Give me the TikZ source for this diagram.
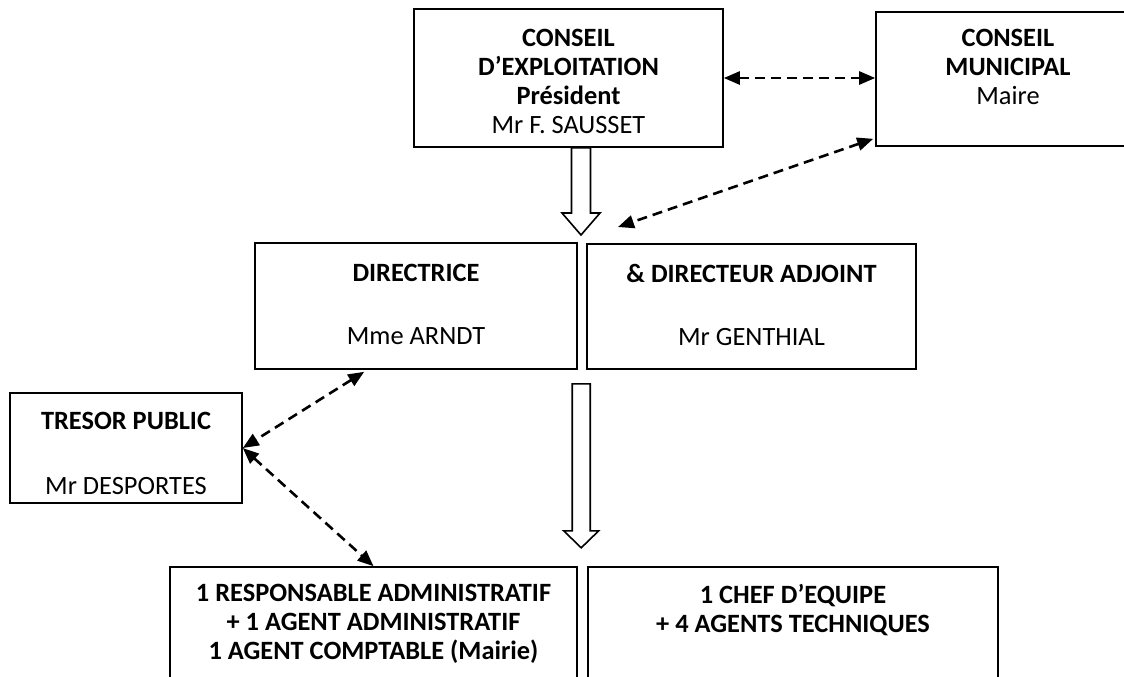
\documentclass[tikz,border=0pt]{standalone}
\usepackage{fontspec}
\setmainfont{Carlito}
\usetikzlibrary{arrows.meta,calc}
\tikzset{
  box/.style={draw, line width=0.8pt, inner sep=0pt},
  txt/.style={anchor=north, align=center, inner sep=0pt, font=\fontsize{13.2}{14.5}\selectfont},
  link/.style={line width=1.3pt, dash pattern=on 5pt off 3pt,
    {Triangle[length=8pt,width=6.5pt]}-{Triangle[length=8pt,width=6.5pt]}},
  hollow/.style={draw, line width=0.8pt, fill=white, line join=miter},
}
\begin{document}
\begin{tikzpicture}[x=0.5pt,y=-0.5pt]
\useasboundingbox (0,0) rectangle (1124,676);
\clip (0,0) rectangle (1124,676);
% cadres
\node[box, minimum width=154.5pt, minimum height=69pt] (cx) at (568.5,78) {};
\node[box, minimum width=132pt, minimum height=67pt] (cm) at (1008,79) {};
\node[box, minimum width=161pt, minimum height=63pt] (dir) at (416,306) {};
\node[box, minimum width=164.5pt, minimum height=62.5pt] (adj) at (751.5,306.5) {};
\node[box, minimum width=116pt, minimum height=55pt] (tr) at (126,448) {};
\node[box, minimum width=203.5pt, minimum height=66.5pt] (bl) at (373.5,633.5) {};
\node[box, minimum width=205pt, minimum height=66.5pt] (br) at (793,633.5) {};
% textes
\node[txt] (cx-t) at (cx.north |- 0,29) {\textbf{CONSEIL}\\ \textbf{D’EXPLOITATION}\\ \textbf{Président}\\ Mr F. SAUSSET};
\node[txt] (cm-t) at (cm.north |- 0,29) {\textbf{CONSEIL}\\ \textbf{MUNICIPAL}\\ Maire};
\node[txt] (dir-t) at (dir.north |- 0,264) {\textbf{DIRECTRICE}\\[17pt] Mme ARNDT};
\node[txt] (adj-t) at (adj.north |- 0,264) {\textbf{\& DIRECTEUR ADJOINT}\\[17pt] Mr GENTHIAL};
\node[txt] (tr-t) at (tr.north |- 0,412) {\textbf{TRESOR PUBLIC}\\[18pt] Mr DESPORTES};
\node[txt] (bl-t) at (bl.north |- 0,584) {\textbf{1 RESPONSABLE ADMINISTRATIF}\\ \textbf{+ 1 AGENT ADMINISTRATIF}\\ \textbf{1 AGENT COMPTABLE (Mairie)}};
\node[txt] (br-t) at (br.north |- 0,584) {\textbf{1 CHEF D’EQUIPE}\\ \textbf{+ 4 AGENTS TECHNIQUES}};
% fleches creuses
\coordinate (h1) at ($(cx.south)+(12.5,0)$);
\coordinate (h1t) at (581,235);
\draw[hollow] ($(h1)+(-9.5,0)$) -- ($(h1t)+(-9.5,-22)$) -- ($(h1t)+(-19,-22)$) -- (h1t)
  -- ($(h1t)+(19,-22)$) -- ($(h1t)+(9.5,-22)$) -- ($(h1)+(9.5,0)$) -- cycle;
\coordinate (h2) at ($(adj.south west)+(-5,14)$);
\coordinate (h2t) at ($(h2)+(0,164)$);
\draw[hollow] ($(h2)+(-9,0)$) -- ($(h2t)+(-9,-17)$) -- ($(h2t)+(-17.5,-17)$) -- (h2t)
  -- ($(h2t)+(17.5,-17)$) -- ($(h2t)+(9,-17)$) -- ($(h2)+(9,0)$) -- cycle;
% liaisons
\coordinate (m1) at ($(cm.south west)+(-2,-8)$);
\coordinate (m2) at (618,227);
\draw[link] (cx.east) -- (cm.west |- cx.east);
\draw[link] (m1) -- (m2);
\draw[link] ($(dir.south west)+(110,2)$) -- (tr.east);
\draw[link] (tr.east) -- (bl.north);
\end{tikzpicture}
\end{document}
